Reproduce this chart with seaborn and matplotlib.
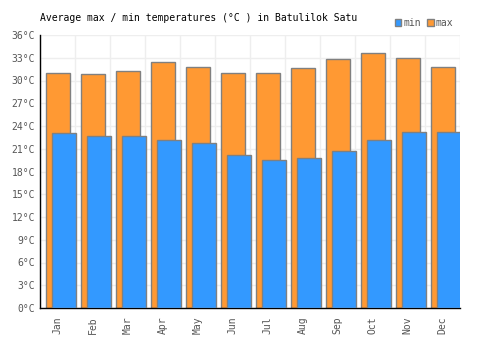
import numpy as np
import pandas as pd
import matplotlib
matplotlib.use("Agg")
import matplotlib.pyplot as plt
from matplotlib.patches import Patch
import seaborn as sns

months = ["Jan", "Feb", "Mar", "Apr", "May", "Jun", "Jul", "Aug", "Sep", "Oct", "Nov", "Dec"]
max_temps = [31.0, 30.8, 31.2, 32.4, 31.8, 31.0, 31.0, 31.7, 32.8, 33.6, 33.0, 31.8]
min_temps = [23.1, 22.7, 22.7, 22.2, 21.7, 20.2, 19.5, 19.8, 20.7, 22.2, 23.2, 23.2]
y_ticks = list(range(0, 37, 3))

ORANGE = "#ff9933"
BLUE = "#3399ff"
EDGE = "#808080"
TEXT = "#555555"

sns.set_style("white")
plt.rcParams["font.family"] = ["DejaVu Sans Mono"]

fig = plt.figure(figsize=(5, 3.5), dpi=100)
ax = fig.add_axes([0.08, 0.12, 0.84, 0.78])

idx = np.arange(len(months))
df_max = pd.DataFrame({"pos": idx + 0.015, "temp": max_temps})
df_min = pd.DataFrame({"pos": idx + 0.175, "temp": min_temps})

sns.barplot(data=df_max, x="pos", y="temp", native_scale=True, width=0.67,
            color=ORANGE, saturation=1, edgecolor=EDGE, linewidth=1, ax=ax, zorder=2)
sns.barplot(data=df_min, x="pos", y="temp", native_scale=True, width=0.69,
            color=BLUE, saturation=1, edgecolor=EDGE, linewidth=1, ax=ax, zorder=3)

ax.set_xlim(-0.5, 11.5)
ax.set_ylim(0, 36)
ax.set_yticks(y_ticks)
ax.set_yticklabels([f"{t}°C" for t in y_ticks])
ax.set_xticks(idx)
ax.set_xticklabels(months, rotation=90)
ax.set_xticks(np.arange(-0.5, 12, 1), minor=True)
ax.tick_params(axis="both", which="both", length=0, labelsize=7, labelcolor=TEXT)
ax.tick_params(axis="x", pad=6)
ax.set_xlabel("")
ax.set_ylabel("")

ax.grid(True, axis="y", color="#eeeeee", linewidth=1, zorder=0)
ax.grid(True, axis="x", which="minor", color="#eeeeee", linewidth=1, zorder=0)
ax.grid(False, axis="x", which="major")
ax.set_axisbelow(True)

for side in ["top", "right"]:
    ax.spines[side].set_visible(False)
for side in ["left", "bottom"]:
    ax.spines[side].set_color("black")
    ax.spines[side].set_linewidth(1)

ax.set_title("Average max / min temperatures (°C ) in Batulilok Satu", loc="left",
             fontsize=7, color="black", pad=10)

handles = [Patch(facecolor=BLUE, edgecolor=EDGE, label="min"),
           Patch(facecolor=ORANGE, edgecolor=EDGE, label="max")]
leg = ax.legend(handles=handles, ncol=2, loc="lower right", bbox_to_anchor=(1.0, 1.0),
                frameon=False, fontsize=7, handlelength=0.7, handleheight=0.7,
                handletextpad=0.2, columnspacing=0.6, borderaxespad=0.3)
for t in leg.get_texts():
    t.set_color(TEXT)

fig.savefig("out.png", dpi=100)
